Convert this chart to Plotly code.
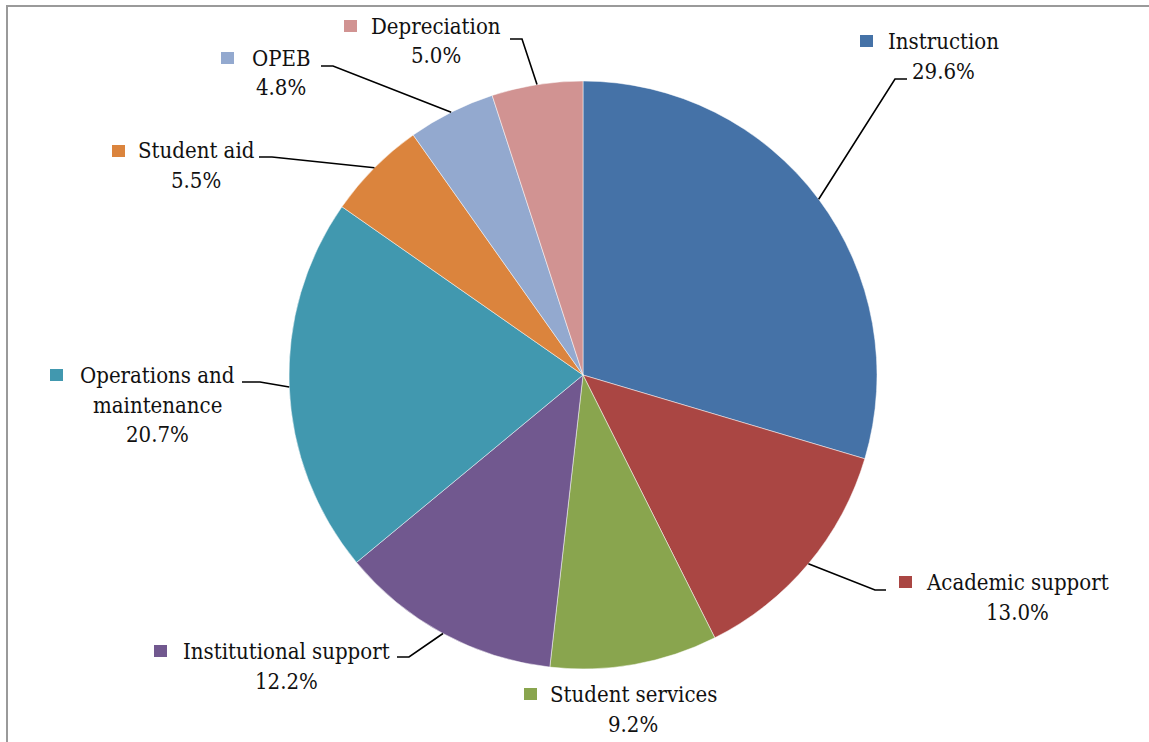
import math
import plotly.graph_objects as go

# ---- data ----
categories = ["Instruction", "Academic support", "Student services", "Institutional support",
              "Operations and maintenance", "Student aid", "OPEB", "Depreciation"]
shares = [29.6, 13.0, 9.2, 12.2, 20.7, 5.5, 4.8, 5.0]
colors = ["#4572A7", "#AA4643", "#89A54E", "#71588F", "#4198AF", "#DB843D", "#93A9CF", "#D19392"]

# ---- layout (pixels) ----
W, H = 1149, 742
CX, CY, R = 583, 375, 294
FONT = "DejaVu Serif Condensed, DejaVu Serif"
FS = 22
LINE_GAP = 30
# label: name lines, first-line centre, marker left x, leader elbow, leader end (None = no leader)
label_layout = {
    "Instruction": (["Instruction"], (943, 41), 860, (895, 79), (907, 79)),
    "Academic support": (["Academic support"], (1018, 582), 899, (875, 590), (886, 590)),
    "Student services": (["Student services"], (633, 694), 524, None, None),
    "Institutional support": (["Institutional support"], (286, 651), 154, (409, 657), (397, 657)),
    "Operations and maintenance": (["Operations and", "maintenance"], (157, 375), 50, (260, 382), (242, 382)),
    "Student aid": (["Student aid"], (196, 151), 112, (272, 157), (259, 157)),
    "OPEB": (["OPEB"], (281, 58), 221, (333, 66), (321, 66)),
    "Depreciation": (["Depreciation"], (436, 26), 344, (522, 39), (510, 39)),
}


def px(x):
    return x / W


def py(y):
    return 1 - y / H


fig = go.Figure(go.Pie(
    labels=categories, values=shares, sort=False, direction="clockwise", rotation=0,
    marker=dict(colors=colors, line=dict(color="rgba(255,255,255,0.7)", width=0.7)),
    textinfo="none", hoverinfo="label+percent", showlegend=False,
    domain=dict(x=[px(CX - R), px(CX + R)], y=[py(CY + R), py(CY - R)]),
))

shapes = [dict(type="rect", xref="paper", yref="paper",
               x0=px(7), y0=-0.02, x1=1.02, y1=py(6),
               line=dict(color="#9a9a9a", width=2))]
annotations = []

total = sum(shares)
cum = 0.0
for name, val, col in zip(categories, shares, colors):
    mid = (cum + val / 2) / total * 2 * math.pi
    cum += val
    lines, (lx, ly), mx, elbow, end = label_layout[name]
    if elbow is not None:
        sx = CX + R * math.sin(mid)
        sy = CY - R * math.cos(mid)
        path = f"M {px(sx)} {py(sy)} L {px(elbow[0])} {py(elbow[1])} L {px(end[0])} {py(end[1])}"
        shapes.append(dict(type="path", xref="paper", yref="paper", path=path,
                           line=dict(color="black", width=1.6)))
    # marker square
    shapes.append(dict(type="rect", xref="paper", yref="paper",
                       x0=px(mx), x1=px(mx + 13), y0=py(ly + 6), y1=py(ly - 6),
                       fillcolor=col, line=dict(width=0)))
    all_lines = lines + [f"{val:.1f}%"]
    for i, t in enumerate(all_lines):
        annotations.append(dict(xref="paper", yref="paper", x=px(lx), y=py(ly + i * LINE_GAP),
                                text=t, showarrow=False, xanchor="center", yanchor="middle",
                                font=dict(family=FONT, size=FS, color="#111111")))

fig.update_layout(width=W, height=H, margin=dict(l=0, r=0, t=0, b=0),
                  paper_bgcolor="white", plot_bgcolor="white",
                  font=dict(family=FONT),
                  shapes=shapes, annotations=annotations)
fig.write_html("out.html")
